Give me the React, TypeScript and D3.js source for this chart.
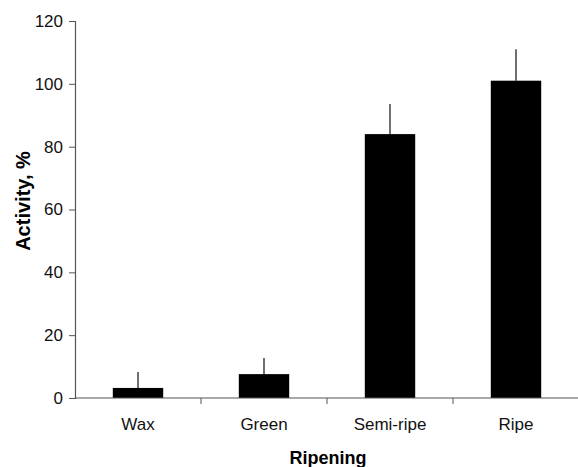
import React, { useEffect, useRef } from "react";
import * as d3 from "d3";

const stages = ["Wax", "Green", "Semi-ripe", "Ripe"];
const activity = [3.2, 7.6, 84, 101];
const errorTop = [8.3, 12.7, 93.6, 111];
const yTicks = [0, 20, 40, 60, 80, 100, 120];

const width = 578,
  height = 467;
const margin = { left: 75, right: 0, top: 21, bottom: 69 };

const App = () => {
  const ref = useRef<SVGSVGElement>(null);

  useEffect(() => {
    const svg = d3.select(ref.current);
    svg.selectAll("*").remove();

    const x = d3
      .scaleBand()
      .domain(stages)
      .range([margin.left, width + 1])
      .paddingInner(0.6)
      .paddingOuter(0.3);
    const y = d3
      .scaleLinear()
      .domain([0, 120])
      .range([height - margin.bottom, margin.top]);

    const font = "'Liberation Sans', Arial, sans-serif";
    const step = x.step();

    // y axis
    const yAxis = d3.axisLeft(y).tickValues(yTicks).tickSize(6).tickPadding(6);
    const gy = svg.append("g").attr("transform", "translate(" + margin.left + ",0)").call(yAxis);
    gy.select(".domain").attr("stroke", "#555").attr("stroke-width", 1.2);
    gy.selectAll(".tick line").attr("stroke", "#555");
    gy.selectAll("text").attr("font-family", font).attr("font-size", 17).attr("fill", "#111");

    // bars
    svg
      .selectAll("rect.bar")
      .data(stages)
      .enter()
      .append("rect")
      .attr("class", "bar")
      .attr("x", (d) => x(d)!)
      .attr("width", x.bandwidth())
      .attr("y", (d, i) => y(activity[i]))
      .attr("height", (d, i) => y(0) - y(activity[i]))
      .attr("fill", "#000");

    // error bars
    svg
      .selectAll("line.err")
      .data(stages)
      .enter()
      .append("line")
      .attr("class", "err")
      .attr("x1", (d) => x(d)! + x.bandwidth() / 2)
      .attr("x2", (d) => x(d)! + x.bandwidth() / 2)
      .attr("y1", (d, i) => y(activity[i]))
      .attr("y2", (d, i) => y(errorTop[i]))
      .attr("stroke", "#222")
      .attr("stroke-width", 1.3);

    // x axis
    const gx = svg.append("g");
    gx.append("line")
      .attr("x1", margin.left)
      .attr("x2", width)
      .attr("y1", y(0))
      .attr("y2", y(0))
      .attr("stroke", "#555")
      .attr("stroke-width", 1.2);
    gx.selectAll("line.tk")
      .data(stages.slice(1))
      .enter()
      .append("line")
      .attr("class", "tk")
      .attr("x1", (d) => x(d)! + x.bandwidth() / 2 - step / 2)
      .attr("x2", (d) => x(d)! + x.bandwidth() / 2 - step / 2)
      .attr("y1", y(0))
      .attr("y2", y(0) + 6)
      .attr("stroke", "#555");
    gx.selectAll("text")
      .data(stages)
      .enter()
      .append("text")
      .attr("x", (d) => x(d)! + x.bandwidth() / 2)
      .attr("y", y(0) + 32)
      .attr("text-anchor", "middle")
      .attr("font-family", font)
      .attr("font-size", 17)
      .attr("fill", "#111")
      .text((d) => d);

    svg
      .append("text")
      .attr("x", 328)
      .attr("y", 464)
      .attr("text-anchor", "middle")
      .attr("font-family", font)
      .attr("font-weight", "bold")
      .attr("font-size", 18)
      .text("Ripening");

    svg
      .append("text")
      .attr("transform", "translate(30,201) rotate(-90)")
      .attr("text-anchor", "middle")
      .attr("font-family", font)
      .attr("font-weight", "bold")
      .attr("font-size", 20)
      .text("Activity, %");
  }, []);

  return (
    <svg
      ref={ref}
      width={width}
      height={height}
      style={{ position: "absolute", left: 0, top: 0, background: "#fff" }}
    />
  );
};

export default App;
